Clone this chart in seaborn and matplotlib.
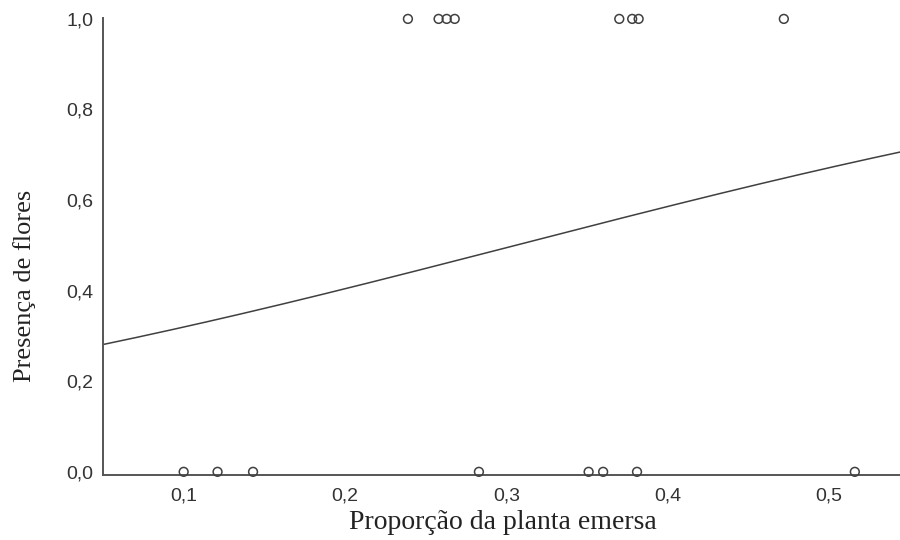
import numpy as np
import pandas as pd
import matplotlib
matplotlib.use("Agg")
import matplotlib.pyplot as plt
import seaborn as sns

# pontos observados (proporção emersa, presença de flores)
x_com_flor = [0.239, 0.258, 0.263, 0.268, 0.370, 0.378, 0.382, 0.472]
x_sem_flor = [0.100, 0.121, 0.143, 0.283, 0.351, 0.360, 0.381, 0.516]
x_ticks = [0.1, 0.2, 0.3, 0.4, 0.5]
y_ticks = [0.0, 0.2, 0.4, 0.6, 0.8, 1.0]

df = pd.DataFrame({
    "prop": x_com_flor + x_sem_flor,
    "flor": [1.0] * len(x_com_flor) + [0.0] * len(x_sem_flor),
})

# ajuste logístico (IRLS)
X = np.column_stack([np.ones(len(df)), df["prop"]])
y = df["flor"].to_numpy()
beta = np.zeros(2)
for _ in range(50):
    p = 1 / (1 + np.exp(-X @ beta))
    W = p * (1 - p)
    beta = beta + np.linalg.solve(X.T @ (W[:, None] * X), X.T @ (y - p))

xmin, xmax = 0.05, 0.544
grid = np.linspace(xmin, xmax, 200)
curva = pd.DataFrame({"prop": grid, "p": 1 / (1 + np.exp(-(beta[0] + beta[1] * grid)))})

sns.set_style("white")
fig = plt.figure(figsize=(9, 5.4), dpi=100)
ax = fig.add_axes([103 / 900, 1 - 475 / 540, 797 / 900, 457 / 540])

sns.lineplot(data=curva, x="prop", y="p", color="#404040", linewidth=1.1, ax=ax)
sns.scatterplot(data=df, x="prop", y="flor", marker="o", s=40, facecolor="none",
                edgecolor="#404040", linewidth=1.1, clip_on=False, ax=ax, zorder=3)

ax.set_xlim(xmin, xmax)
ax.set_ylim(-0.007, 1.002)
ax.set_xticks(x_ticks)
ax.set_yticks(y_ticks)
fmt = lambda v, _: f"{v:.1f}".replace(".", ",")
ax.xaxis.set_major_formatter(matplotlib.ticker.FuncFormatter(fmt))
ax.yaxis.set_major_formatter(matplotlib.ticker.FuncFormatter(fmt))
ax.tick_params(direction="in", length=3, width=1, color="#444444",
               labelsize=14, labelcolor="#333333", labelfontfamily="Liberation Sans")
ax.tick_params(axis="x", pad=9)
ax.tick_params(axis="y", pad=7)

for s in ["top", "right"]:
    ax.spines[s].set_visible(False)
for s in ["left", "bottom"]:
    ax.spines[s].set_color("#555555")
    ax.spines[s].set_linewidth(1.4)

ax.set_xlabel("Proporção da planta emersa", family="Liberation Serif", fontsize=20,
              color="#222222", va="center")
ax.set_ylabel("Presença de flores", family="Liberation Serif", fontsize=19,
              color="#222222", va="center")
ax.xaxis.set_label_coords(0.502, -0.105)
ax.yaxis.set_label_coords(-0.098, 0.4136)

fig.savefig("out.png", dpi=100)
